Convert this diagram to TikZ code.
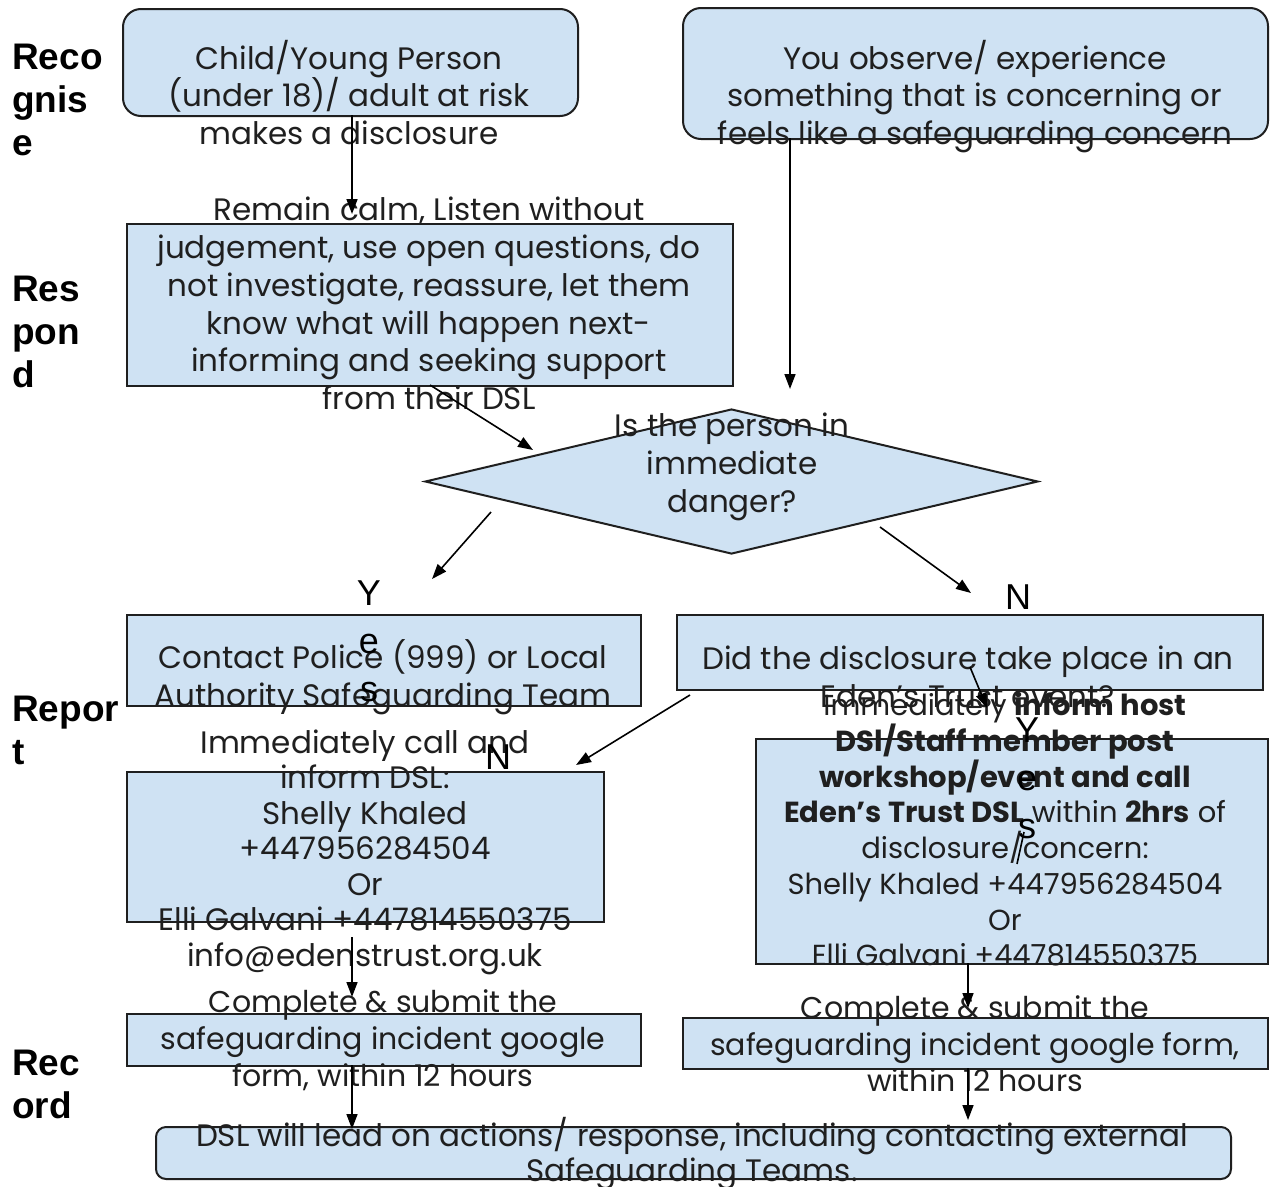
\documentclass[tikz,border=0pt]{standalone}
\usepackage{fontspec}
\setmainfont{Poppins}
\newfontfamily\labfont{Liberation Sans}
\usetikzlibrary{arrows.meta,shapes.geometric}
\definecolor{boxblue}{HTML}{CFE2F3}
\definecolor{ink}{HTML}{1F1F1F}
\tikzset{
  boxbase/.style={draw=ink, line width=2pt, fill=boxblue, inner sep=0pt, anchor=north west},
  rbox/.style={boxbase, rounded corners=18pt},
  sbox/.style={boxbase},
  txt/.style={inner sep=0pt, align=center, text=ink, font=\fontsize{31}{37.8}\selectfont},
  lab/.style={inner sep=0pt, align=left, anchor=west, text=black, font=\labfont\bfseries\fontsize{37}{43}\selectfont},
  yn/.style={inner sep=0pt, align=center, text=black, font=\labfont\fontsize{36}{48}\selectfont},
  conn/.style={draw=black, line width=1.6pt, -{Stealth[length=15pt,width=11pt,inset=0pt]}},
  plainconn/.style={draw=black, line width=1.6pt},
}
\begin{document}
\begin{tikzpicture}[x=1pt,y=-1pt]
\useasboundingbox (0,0) rectangle (1271,1186);
\fill[white] (0,0) rectangle (1271,1186);

% boxes
\node[rbox, minimum width=455pt, minimum height=107pt] (b1) at (122,8) {};
\node[rbox, minimum width=585pt, minimum height=131pt] (b2) at (682,7) {};
\node[sbox, minimum width=606pt, minimum height=162pt] (b3) at (126,223) {};
\node[diamond, draw=ink, line width=2pt, fill=boxblue, inner sep=0pt, minimum width=613pt, minimum height=145pt] (dia) at (731.5,481.5) {};
\node[sbox, minimum width=514pt, minimum height=91pt] (b4) at (126,614) {};
\node[sbox, minimum width=586pt, minimum height=75pt] (b5) at (676,614) {};
\node[sbox, minimum width=477pt, minimum height=150pt] (b6) at (126,771) {};
\node[sbox, minimum width=512pt, minimum height=225pt] (b7) at (755,738) {};
\node[sbox, minimum width=514pt, minimum height=52pt] (b8) at (126,1013) {};
\node[sbox, minimum width=585pt, minimum height=51pt] (b9) at (682,1017) {};
\node[rbox, rounded corners=10pt, minimum width=1075pt, minimum height=52pt] (b10) at (155,1126) {};

% section labels
\node[lab] (lrec) at (12,100) {Reco\\gnis\\e};
\node[lab] (lres) at (12,332) {Res\\pon\\d};
\node[lab] (lrep) at (12,730) {Repor\\t};
\node[lab] (lrecord) at (12,1084) {Rec\\ord};

% texts
\node[txt] (t1) at (349,92.5) {Child/Young Person\\(under 18)/ adult at risk\\makes a disclosure};
\node[txt] (t2) at (975,96.5) {You observe/ experience\\something that is concerning or\\feels like a safeguarding concern};
\node[txt] (t3) at (429,303.5) {Remain calm, Listen without\\judgement, use open questions, do\\not investigate, reassure, let them\\know what will happen next-\\informing and seeking support\\from their DSL};
\node[txt] (t4) at (732,467) {Is the person in\\immediate\\danger?};
\node[txt] (t5) at (383,677.5) {Contact Police (999) or Local\\Authority Safeguarding Team};
\node[txt] (t6) at (968,677) {Did the disclosure take place in an\\Eden’s Trust event?};
\node[txt, font=\fontsize{31}{35.5}\selectfont] (t7) at (365,852) {Immediately call and\\inform DSL:\\Shelly Khaled\\+447956284504\\Or\\Elli Galvani +447814550375\\info@edenstrust.org.uk};
\node[txt, font=\fontsize{29}{35.7}\selectfont] (t8) at (1005,829.5) {Immediately \textbf{inform host}\\\textbf{DSl/Staff member post}\\\textbf{workshop/event and call}\\\textbf{Eden’s Trust DSL} within \textbf{2hrs} of\\disclosure/concern:\\Shelly Khaled +447956284504\\Or\\Elli Galvani +447814550375};
\node[txt, font=\fontsize{30}{37}\selectfont] (t9) at (383,1040) {Complete \& submit the\\safeguarding incident google\\form, within 12 hours};
\node[txt, font=\fontsize{30}{36.5}\selectfont] (t10) at (975,1044) {Complete \& submit the\\safeguarding incident google form,\\within 12 hours};
\node[txt, font=\fontsize{31}{35}\selectfont] (t11) at (692,1154) {DSL will lead on actions/ response, including contacting external\\Safeguarding Teams.};

% yes / no labels
\node[yn] (yes1) at (369,641) {Y\\e\\s};
\node[yn] (no1) at (1018,597) {N};
\node[yn] (no2) at (498,757) {N};
\node[yn] (yes2) at (1027,778) {Y\\e\\s};

% connector end points
\coordinate (a1s) at (352,115);  \coordinate (a1e) at (352,214);
\coordinate (a2s) at (790,138);  \coordinate (a2e) at (790,389);
\coordinate (a3s) at (430,385);  \coordinate (a3e) at (533,450);
\coordinate (a4s) at (491,512);  \coordinate (a4e) at (432,579);
\coordinate (a5s) at (880,527);  \coordinate (a5e) at (971,593);
\coordinate (a6s) at (690,695);  \coordinate (a6e) at (576,765);
\coordinate (a7s) at (970,667);  \coordinate (a7e) at (987,708);
\coordinate (a8s) at (1024,832); \coordinate (a8e) at (1017,864);
\coordinate (a9s) at (352,937);  \coordinate (a9e) at (352,997);
\coordinate (a10s) at (352,1065); \coordinate (a10e) at (352,1129);
\coordinate (a11s) at (968,963);  \coordinate (a11e) at (968,1008);
\coordinate (a12s) at (968,1068); \coordinate (a12e) at (968,1120);

\draw[conn] (a1s) -- (a1e);
\draw[conn] (a2s) -- (a2e);
\draw[conn] (a3s) -- (a3e);
\draw[conn] (a4s) -- (a4e);
\draw[conn] (a5s) -- (a5e);
\draw[conn] (a6s) -- (a6e);
\draw[conn] (a7s) -- (a7e);
\draw[plainconn] (a8s) -- (a8e);
\draw[conn] (a9s) -- (a9e);
\draw[conn] (a10s) -- (a10e);
\draw[conn] (a11s) -- (a11e);
\draw[conn] (a12s) -- (a12e);
\end{tikzpicture}
\end{document}
